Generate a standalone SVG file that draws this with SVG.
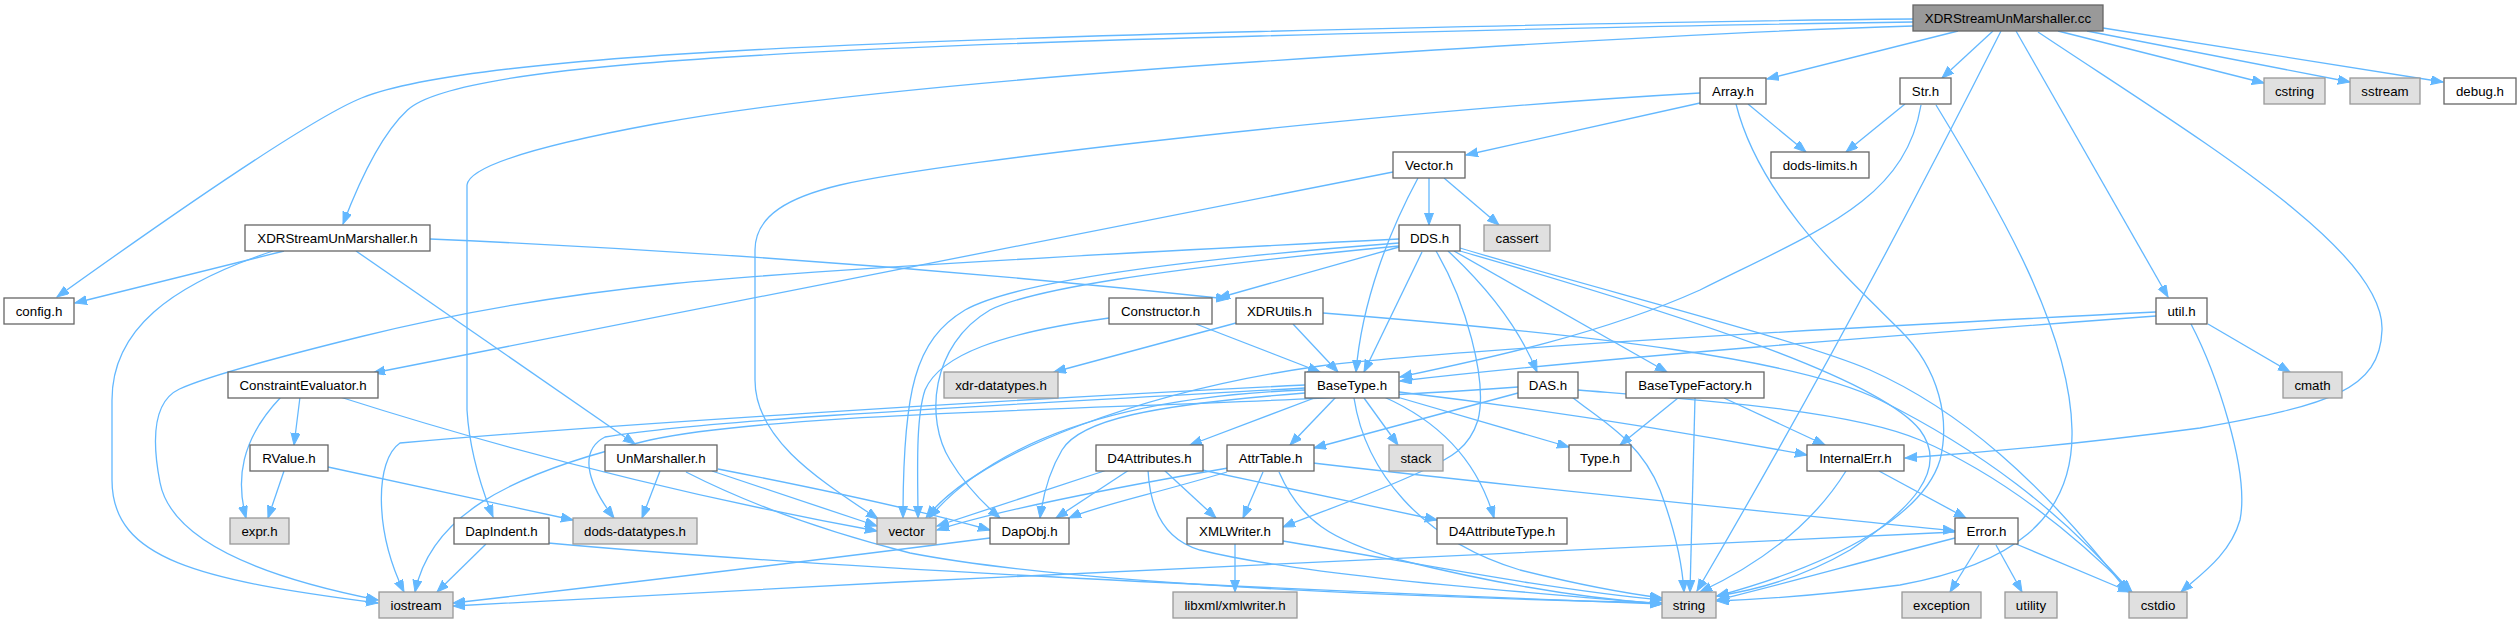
<svg xmlns="http://www.w3.org/2000/svg" width="2519" height="623" viewBox="0 0 2519 623">
<style>
.e{fill:none;stroke:#63b8ff;stroke-width:1.3;marker-end:url(#a)}
.n{fill:#fff;stroke:#666;stroke-width:1.3}
.x{fill:#e0e0e0;stroke:#999;stroke-width:1.3}
.r{fill:#999;stroke:#666;stroke-width:1.3}
text{font-family:"Liberation Sans",Arial,sans-serif;font-size:13.3px;fill:#000;text-anchor:middle}
</style>
<defs>
<marker id="a" markerUnits="userSpaceOnUse" markerWidth="13" markerHeight="10" refX="12" refY="4.5" orient="auto"><path d="M0,0 L12,4.5 L0,9 z" fill="#63b8ff" stroke="#63b8ff" stroke-width="1"/></marker>
</defs>
<rect width="2519" height="623" fill="#fff"/>
<g id="connectors">
<path class="e" d="M1913,19 Q1680,21 1260,31.5 Q840,42 631.5,57.5 Q423,73 361.5,98 Q300,123 57,297"/>
<path class="e" d="M1913,22 Q1680,25 1260,36 Q840,47 640,63.5 Q440,80 407.5,110 Q375,140 343,224"/>
<path class="e" d="M1913,26 Q1680,33 1260,61.5 Q840,90 655,124 Q470,158 467,185 L467,410 Q470,460 493,517"/>
<path class="e" d="M1958,31 L1767,79"/>
<path class="e" d="M1993,31 L1942,78"/>
<path class="e" d="M2001,31 Q1850,330 1697,591"/>
<path class="e" d="M2016,31 L2168,297"/>
<path class="e" d="M2038,32 C2200,140 2385,250 2382,330 C2380,390 2330,405 2200,428 Q2050,448 1905,458"/>
<path class="e" d="M2058,31 L2264,83"/>
<path class="e" d="M2087,31 L2350,82"/>
<path class="e" d="M2103,28 L2443,82"/>
<path class="e" d="M284,251 L75,303"/>
<path class="e" d="M273,251 C170,285 112,330 112,400 L112,480 C112,560 200,580 378,603"/>
<path class="e" d="M356,251 L635,444"/>
<path class="e" d="M430,239 Q840,257 1228,299"/>
<path class="e" d="M1748,104 L1806,152"/>
<path class="e" d="M1700,103 L1466,155"/>
<path class="e" d="M1700,93 C1400,110 950,160 840,185 C790,197 755,215 755,250 L755,380 C755,440 820,480 878,519"/>
<path class="e" d="M1736,104 C1760,200 1850,280 1900,330 C1940,370 1950,420 1940,460 C1925,510 1850,560 1717,596"/>
<path class="e" d="M1905,104 L1846,152"/>
<path class="e" d="M1921,105 C1905,200 1820,230 1700,290 C1600,335 1480,360 1400,377"/>
<path class="e" d="M1936,105 C2000,210 2070,330 2072,430 C2074,520 2010,565 1900,585 Q1800,598 1717,601"/>
<path class="e" d="M1429,178 L1429,225"/>
<path class="e" d="M1444,178 L1499,225"/>
<path class="e" d="M1418,178 C1390,230 1362,300 1356,372"/>
<path class="e" d="M1393,172 L373,373"/>
<path class="e" d="M1399,239 Q840,267 674.5,283.5 Q509,300 361.5,336.5 Q214,373 179.5,389 Q145,405 160,482.5 Q175,560 378,600"/>
<path class="e" d="M1399,243 C1150,262 1010,285 965,310 C915,340 903,390 903,518"/>
<path class="e" d="M1399,246 C1150,270 1030,290 990,310 C930,345 925,420 950,460 C965,485 985,505 1000,518"/>
<path class="e" d="M1109,318 C1000,333 940,355 925,390 C915,420 918,480 918,518"/>
<path class="e" d="M1399,247 L1218,298"/>
<path class="e" d="M1422,252 L1364,372"/>
<path class="e" d="M1436,251 C1465,300 1488,380 1478,420 C1468,452 1445,460 1420,472 C1370,495 1320,512 1283,527"/>
<path class="e" d="M1448,251 C1490,290 1520,330 1537,372"/>
<path class="e" d="M1454,251 L1667,372"/>
<path class="e" d="M1460,248 C1600,290 1800,340 1870,370 C1960,410 2040,480 2128,592"/>
<path class="e" d="M1460,251 C1700,320 1880,380 1920,430 C1950,470 1910,510 1850,550 Q1790,585 1717,596"/>
<path class="e" d="M1236,323 L1054,372"/>
<path class="e" d="M1293,324 L1338,372"/>
<path class="e" d="M1323,313 C1600,335 1800,360 1880,400 C1980,450 2060,510 2131,592"/>
<path class="e" d="M1196,324 L1320,372"/>
<path class="e" d="M2156,316 C1900,335 1600,358 1400,381"/>
<path class="e" d="M2156,312 C1800,330 1450,350 1320,366 C1150,390 980,450 926,518"/>
<path class="e" d="M2208,324 L2290,372"/>
<path class="e" d="M2191,324 C2215,370 2250,470 2240,520 C2230,555 2200,575 2181,592"/>
<path class="e" d="M281,397 C240,440 236,480 246,518"/>
<path class="e" d="M300,397 L294,445"/>
<path class="e" d="M340,397 Q600,480 877,531"/>
<path class="e" d="M284,471 L268,518"/>
<path class="e" d="M328,467 L573,520"/>
<path class="e" d="M660,471 L642,518"/>
<path class="e" d="M712,471 L877,526"/>
<path class="e" d="M718,469 C800,485 900,505 990,530"/>
<path class="e" d="M686,472 Q780,520 910,553 Q1100,590 1662,603"/>
<path class="e" d="M486,544 L437,592"/>
<path class="e" d="M548,543 Q900,575 1662,604"/>
<path class="e" d="M990,538 Q700,575 453,603"/>
<path class="e" d="M1955,532 Q1500,552 900,582 Q650,595 453,606"/>
<path class="e" d="M1955,538 C1850,565 1780,585 1717,600"/>
<path class="e" d="M1979,545 L1950,592"/>
<path class="e" d="M1996,545 L2022,592"/>
<path class="e" d="M2016,544 L2130,592"/>
<path class="e" d="M1846,471 Q1800,545 1700,592"/>
<path class="e" d="M1879,471 L1966,518"/>
<path class="e" d="M1678,398 L1620,445"/>
<path class="e" d="M1695,398 L1690,592"/>
<path class="e" d="M1724,398 L1825,445"/>
<path class="e" d="M1518,393 L1314,448"/>
<path class="e" d="M1518,387 C1200,410 800,408 650,440 C500,475 430,520 415,592"/>
<path class="e" d="M1572,397 C1600,420 1640,440 1660,490 C1675,530 1682,560 1684,592"/>
<path class="e" d="M1578,390 C1700,400 1850,410 1920,440 C1990,470 2060,520 2132,592"/>
<path class="e" d="M1305,385 C1000,400 600,425 400,443 C375,460 374,530 404,592"/>
<path class="e" d="M1305,388 C1000,405 700,420 605,437 C580,450 585,480 614,518"/>
<path class="e" d="M1305,390 Q1030,400 929,518"/>
<path class="e" d="M1305,393 C1150,405 1080,420 1062,450 C1050,470 1043,495 1040,518"/>
<path class="e" d="M1317,397 L1190,445"/>
<path class="e" d="M1336,397 L1290,445"/>
<path class="e" d="M1364,398 L1398,445"/>
<path class="e" d="M1354,398 C1365,470 1420,540 1520,570 Q1600,590 1662,598"/>
<path class="e" d="M1384,397 Q1470,435 1494,518"/>
<path class="e" d="M1397,397 L1569,447"/>
<path class="e" d="M1399,392 C1550,410 1700,435 1807,455"/>
<path class="e" d="M1107,470 L937,526"/>
<path class="e" d="M1129,470 L1056,518"/>
<path class="e" d="M1164,470 L1216,518"/>
<path class="e" d="M1148,470 C1150,510 1165,540 1200,550 C1300,575 1500,590 1662,604"/>
<path class="e" d="M1202,470 L1437,520"/>
<path class="e" d="M1228,468 C1100,490 1000,510 937,530"/>
<path class="e" d="M1227,472 C1150,495 1100,505 1069,518"/>
<path class="e" d="M1263,472 L1243,518"/>
<path class="e" d="M1279,472 C1300,520 1330,540 1400,560 Q1540,595 1662,604"/>
<path class="e" d="M1313,463 C1500,485 1800,515 1955,531"/>
<path class="e" d="M1235,544 L1235,592"/>
<path class="e" d="M1283,541 C1400,560 1550,590 1662,600"/>
</g>
<g id="n0"><rect class="r" x="1913" y="5" width="190" height="26"/><text x="2008" y="22.5">XDRStreamUnMarshaller.cc</text></g>
<g id="n1"><rect class="n" x="245" y="225" width="185" height="26"/><text x="337.5" y="242.5">XDRStreamUnMarshaller.h</text></g>
<g id="n2"><rect class="n" x="4" y="298" width="70" height="26"/><text x="39" y="315.5">config.h</text></g>
<g id="n3"><rect class="n" x="1700" y="78" width="66" height="26"/><text x="1733" y="95.5">Array.h</text></g>
<g id="n4"><rect class="n" x="1900" y="78" width="51" height="26"/><text x="1925.5" y="95.5">Str.h</text></g>
<g id="n5"><rect class="x" x="2264" y="78" width="61" height="26"/><text x="2294.5" y="95.5">cstring</text></g>
<g id="n6"><rect class="x" x="2350" y="78" width="70" height="26"/><text x="2385" y="95.5">sstream</text></g>
<g id="n7"><rect class="n" x="2444" y="78" width="72" height="26"/><text x="2480" y="95.5">debug.h</text></g>
<g id="n8"><rect class="n" x="1771" y="152" width="98" height="26"/><text x="1820" y="169.5">dods-limits.h</text></g>
<g id="n9"><rect class="n" x="1393" y="152" width="72" height="26"/><text x="1429" y="169.5">Vector.h</text></g>
<g id="n10"><rect class="n" x="1399" y="225" width="61" height="26"/><text x="1429.5" y="242.5">DDS.h</text></g>
<g id="n11"><rect class="x" x="1484" y="225" width="66" height="26"/><text x="1517" y="242.5">cassert</text></g>
<g id="n12"><rect class="n" x="1109" y="298" width="103" height="26"/><text x="1160.5" y="315.5">Constructor.h</text></g>
<g id="n13"><rect class="n" x="1236" y="298" width="87" height="26"/><text x="1279.5" y="315.5">XDRUtils.h</text></g>
<g id="n14"><rect class="n" x="2156" y="298" width="51" height="26"/><text x="2181.5" y="315.5">util.h</text></g>
<g id="n15"><rect class="n" x="228" y="372" width="150" height="26"/><text x="303" y="389.5">ConstraintEvaluator.h</text></g>
<g id="n16"><rect class="x" x="944" y="372" width="114" height="26"/><text x="1001" y="389.5">xdr-datatypes.h</text></g>
<g id="n17"><rect class="n" x="1305" y="372" width="94" height="26"/><text x="1352" y="389.5">BaseType.h</text></g>
<g id="n18"><rect class="n" x="1518" y="372" width="60" height="26"/><text x="1548" y="389.5">DAS.h</text></g>
<g id="n19"><rect class="n" x="1626" y="372" width="138" height="26"/><text x="1695" y="389.5">BaseTypeFactory.h</text></g>
<g id="n20"><rect class="x" x="2283" y="372" width="59" height="26"/><text x="2312.5" y="389.5">cmath</text></g>
<g id="n21"><rect class="n" x="250" y="445" width="78" height="26"/><text x="289" y="462.5">RValue.h</text></g>
<g id="n22"><rect class="n" x="605" y="445" width="112" height="26"/><text x="661" y="462.5">UnMarshaller.h</text></g>
<g id="n23"><rect class="n" x="1096" y="445" width="107" height="26"/><text x="1149.5" y="462.5">D4Attributes.h</text></g>
<g id="n24"><rect class="n" x="1227" y="445" width="87" height="26"/><text x="1270.5" y="462.5">AttrTable.h</text></g>
<g id="n25"><rect class="x" x="1389" y="445" width="54" height="26"/><text x="1416" y="462.5">stack</text></g>
<g id="n26"><rect class="n" x="1569" y="445" width="62" height="26"/><text x="1600" y="462.5">Type.h</text></g>
<g id="n27"><rect class="n" x="1807" y="445" width="97" height="26"/><text x="1855.5" y="462.5">InternalErr.h</text></g>
<g id="n28"><rect class="x" x="230" y="518" width="59" height="26"/><text x="259.5" y="535.5">expr.h</text></g>
<g id="n29"><rect class="n" x="454" y="518" width="95" height="26"/><text x="501.5" y="535.5">DapIndent.h</text></g>
<g id="n30"><rect class="x" x="573" y="518" width="124" height="26"/><text x="635" y="535.5">dods-datatypes.h</text></g>
<g id="n31"><rect class="x" x="877" y="518" width="59" height="26"/><text x="906.5" y="535.5">vector</text></g>
<g id="n32"><rect class="n" x="990" y="518" width="79" height="26"/><text x="1029.5" y="535.5">DapObj.h</text></g>
<g id="n33"><rect class="n" x="1187" y="518" width="96" height="26"/><text x="1235" y="535.5">XMLWriter.h</text></g>
<g id="n34"><rect class="n" x="1437" y="518" width="130" height="26"/><text x="1502" y="535.5">D4AttributeType.h</text></g>
<g id="n35"><rect class="n" x="1955" y="518" width="63" height="26"/><text x="1986.5" y="535.5">Error.h</text></g>
<g id="n36"><rect class="x" x="379" y="592" width="74" height="26"/><text x="416" y="609.5">iostream</text></g>
<g id="n37"><rect class="x" x="1173" y="592" width="124" height="26"/><text x="1235" y="609.5">libxml/xmlwriter.h</text></g>
<g id="n38"><rect class="x" x="1662" y="592" width="54" height="26"/><text x="1689" y="609.5">string</text></g>
<g id="n39"><rect class="x" x="1902" y="592" width="79" height="26"/><text x="1941.5" y="609.5">exception</text></g>
<g id="n40"><rect class="x" x="2005" y="592" width="52" height="26"/><text x="2031" y="609.5">utility</text></g>
<g id="n41"><rect class="x" x="2129" y="592" width="58" height="26"/><text x="2158" y="609.5">cstdio</text></g>
</svg>
